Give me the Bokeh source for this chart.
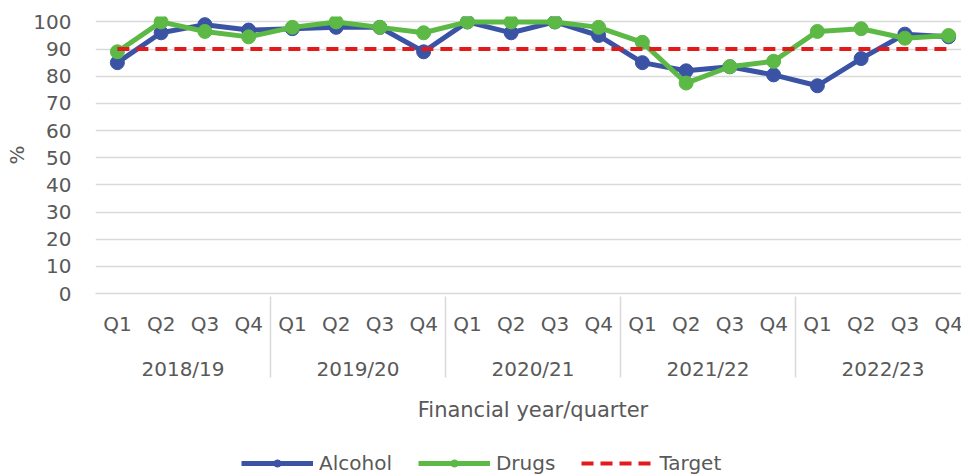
from bokeh.plotting import figure
from bokeh.layouts import column
from bokeh.models import FactorRange, Range1d, FixedTicker, Legend, LegendItem
from bokeh.embed import file_html
from bokeh.resources import INLINE

years = ["2018/19", "2019/20", "2020/21", "2021/22", "2022/23"]
quarters = ["Q1", "Q2", "Q3", "Q4"]
alcohol = [85, 96, 99, 97, 97.5, 98, 98, 89, 100, 96, 100, 95, 85, 82, 83.5, 80.5, 76.5, 86.5, 95.5, 94.5]
drugs = [89, 100, 96.5, 94.5, 98, 100, 98, 96, 100, 100, 100, 98, 92.5, 77.5, 83.5, 85.5, 96.5, 97.5, 94, 95]
target = [90] * 20
y_ticks = [0, 10, 20, 30, 40, 50, 60, 70, 80, 90, 100]
series_names = ["Alcohol", "Drugs", "Target"]

factors = [(y, q) for y in years for q in quarters]

FONT = "DejaVu Sans"
TXT = "#595959"
GRID = "#d9d9d9"
BLUE = "#3a53a4"
GREEN = "#5cb946"
RED = "#e31a1c"
FS = "20px"

x_range = FactorRange(*factors, range_padding=0, group_padding=0, subgroup_padding=0, factor_padding=0)
p = figure(x_range=x_range, y_range=Range1d(0, 102), frame_width=875, frame_height=277,
           output_backend="svg", toolbar_location=None,
           min_border_left=95, min_border_right=0, min_border_top=16, min_border_bottom=0)
p.outline_line_color = None
p.background_fill_color = "white"

p.line(factors, alcohol, line_color=BLUE, line_width=5)
p.scatter(factors, alcohol, size=14, fill_color=BLUE, line_color=BLUE)
p.line(factors, drugs, line_color=GREEN, line_width=5)
p.scatter(factors, drugs, size=14, fill_color=GREEN, line_color=GREEN)
p.line(factors, target, line_color=RED, line_width=4, line_dash="12 7")

# y axis
p.yaxis.ticker = FixedTicker(ticks=y_ticks)
p.yaxis.axis_line_color = None
p.yaxis.major_tick_line_color = None
p.yaxis.major_tick_out = 0
p.yaxis.minor_tick_line_color = None
p.yaxis.major_label_text_font = FONT
p.yaxis.major_label_text_font_size = FS
p.yaxis.major_label_text_color = TXT
p.yaxis.major_label_standoff = 24
p.yaxis.axis_label = "%"
p.yaxis.axis_label_text_font = FONT
p.yaxis.axis_label_text_font_size = FS
p.yaxis.axis_label_text_font_style = "normal"
p.yaxis.axis_label_text_color = TXT
p.yaxis.axis_label_standoff = 1
p.ygrid.grid_line_color = GRID
p.ygrid.grid_line_width = 1.5
p.xgrid.grid_line_color = None

# x axis
xa = p.xaxis[0]
xa.axis_line_color = GRID
xa.axis_line_width = 1.5
xa.major_tick_line_color = None
xa.major_tick_out = 0
xa.minor_tick_line_color = None
xa.major_label_text_font = FONT
xa.major_label_text_font_size = FS
xa.major_label_text_color = TXT
xa.major_label_orientation = "horizontal"
xa.major_label_standoff = 18
xa.group_text_font = FONT
xa.group_text_font_size = FS
xa.group_text_color = TXT
xa.group_text_font_style = "normal"
xa.separator_line_color = GRID
xa.separator_line_width = 1.5
xa.axis_label = "Financial year/quarter"
xa.axis_label_text_font = FONT
xa.axis_label_text_font_size = "21px"
xa.axis_label_text_font_style = "normal"
xa.axis_label_text_color = TXT
xa.axis_label_standoff = 14

# legend strip below the chart (sample glyphs sit outside its visible range)
pl = figure(width=970, height=54, x_range=Range1d(0, 1), y_range=Range1d(0, 1),
            x_axis_location=None, y_axis_location=None, min_border=0,
            output_backend="svg", toolbar_location=None)
pl.outline_line_color = None
pl.grid.visible = False
hx = [-10, -9]
hy = [-10, -10]
la = pl.line(hx, hy, line_color=BLUE, line_width=5)
lap = pl.scatter(hx[:1], hy[:1], size=14, fill_color=BLUE, line_color=BLUE)
ld = pl.line(hx, hy, line_color=GREEN, line_width=5)
ldp = pl.scatter(hx[:1], hy[:1], size=14, fill_color=GREEN, line_color=GREEN)
lt = pl.line(hx, hy, line_color=RED, line_width=4, line_dash="12 7")
legend = Legend(items=[
    LegendItem(label=series_names[0], renderers=[la, lap]),
    LegendItem(label=series_names[1], renderers=[ld, ldp]),
    LegendItem(label=series_names[2], renderers=[lt]),
], orientation="horizontal", location=(146, 3),
    glyph_width=72, glyph_height=18, label_text_font=FONT, label_text_font_size=FS,
    label_text_color=TXT, spacing=26, label_standoff=6, border_line_color=None,
    background_fill_alpha=0, padding=2, margin=0)
pl.add_layout(legend, "center")

layout = column(p, pl, spacing=0)
open("out.html", "w").write(file_html(layout, INLINE))
